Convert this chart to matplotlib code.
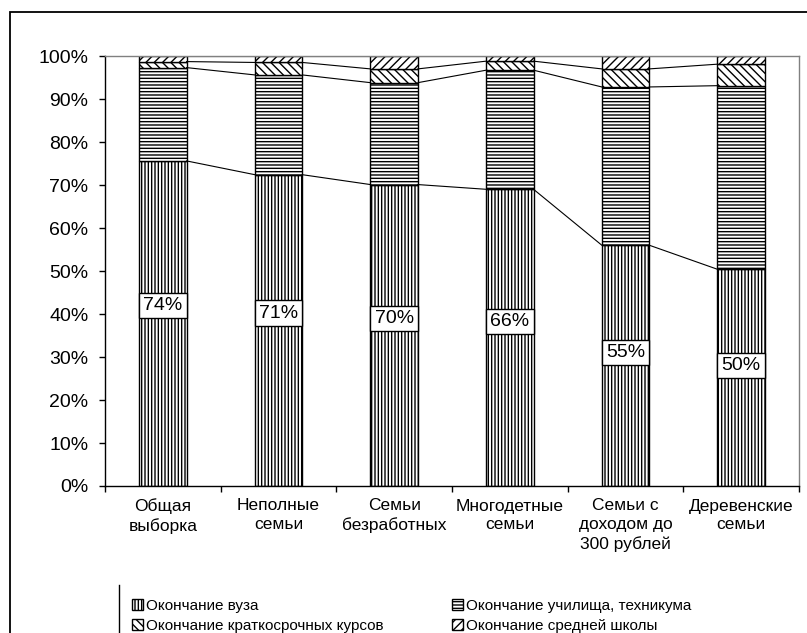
import matplotlib
matplotlib.use("Agg")
import matplotlib.pyplot as plt
from matplotlib.lines import Line2D
from matplotlib.patches import Rectangle
import numpy as np

plt.rcParams['font.family'] = ['Liberation Sans', 'DejaVu Sans']
plt.rcParams['hatch.linewidth'] = 1.0

categories = ["Общая\nвыборка", "Неполные\nсемьи", "Семьи\nбезработных",
              "Многодетные\nсемьи", "Семьи с\nдоходом до\n300 рублей", "Деревенские\nсемьи"]
series_names = ["Окончание вуза", "Окончание училища, техникума",
                "Окончание краткосрочных курсов", "Окончание средней школы"]
vuz = [75.6, 72.4, 70.1, 69.0, 56.0, 50.4]
tech = [21.7, 23.2, 23.7, 27.7, 36.8, 42.7]
courses = [1.4, 2.9, 3.2, 2.1, 4.2, 5.0]
school = [1.3, 1.5, 3.0, 1.2, 3.0, 1.9]
vuz_labels = ["74%", "71%", "70%", "66%", "55%", "50%"]
yticks = [0, 10, 20, 30, 40, 50, 60, 70, 80, 90, 100]

series = [vuz, tech, courses, school]
hatches = ['|||||', '-----', '\\\\\\\\', '////']

fig = plt.figure(figsize=(8.07, 6.33), dpi=100)
ax = fig.add_axes([105/807, 1-486/633, (799-105)/807, (486-56)/633])

x = np.arange(len(categories))
width = 0.41
bottom = np.zeros(len(categories))
handles = []
tops = []
for vals, h, name in zip(series, hatches, series_names):
    b = ax.bar(x, vals, width, bottom=bottom, color='white', edgecolor='black',
               hatch=h, linewidth=1.0, label=name)
    handles.append(b)
    bottom = bottom + np.array(vals)
    tops.append(bottom.copy())

# series lines
for top in tops:
    for i in range(len(categories) - 1):
        ax.plot([x[i] + width/2, x[i+1] - width/2], [top[i], top[i+1]],
                color='black', lw=0.8, zorder=1)

# data labels
for xi, v, lab in zip(x, vuz, vuz_labels):
    ax.text(xi, v * 0.555, lab, ha='center', va='center', fontsize=14,
            bbox=dict(boxstyle='square,pad=0.22', fc='white', ec='black', lw=1.0),
            zorder=5)

ax.set_xlim(-0.5, len(categories) - 0.5)
ax.set_ylim(0, 100)
ax.set_yticks(yticks)
ax.set_yticklabels([f"{t}%" for t in yticks], fontsize=14)
ax.set_xticks(x)
ax.set_xticklabels(categories, fontsize=12.5, linespacing=1.3)
ax.set_xticks(np.arange(-0.5, len(categories)), minor=True)
ax.tick_params(axis='x', which='major', length=0, pad=9)
ax.tick_params(axis='x', which='minor', length=4, width=1, direction='out')
ax.tick_params(axis='y', length=4, width=1, direction='out', pad=8)

for s in ['left', 'bottom']:
    ax.spines[s].set_color('black')
    ax.spines[s].set_linewidth(1.0)
for s in ['top', 'right']:
    ax.spines[s].set_color('#808080')
    ax.spines[s].set_linewidth(1.0)

leg_kw = dict(loc='upper left', frameon=False, fontsize=11, handlelength=0.7,
              handleheight=0.7, handletextpad=0.2, labelspacing=0.4,
              borderpad=0, borderaxespad=0)
fig.legend([handles[0], handles[2]], [series_names[0], series_names[2]],
           bbox_to_anchor=(132/807, 1-599/633), **leg_kw)
fig.legend([handles[1], handles[3]], [series_names[1], series_names[3]],
           bbox_to_anchor=(452/807, 1-599/633), **leg_kw)

# outer chart frame and legend frame edge
fig.add_artist(Rectangle((10/807, -0.1), 1.2, 1-12/633 + 0.1, transform=fig.transFigure,
                         fill=False, ec='black', lw=1.3))
fig.add_artist(Line2D([119/807, 119/807], [0, 1-585/633], transform=fig.transFigure,
                      color='black', lw=1.0))

fig.savefig("out.png", dpi=100, facecolor='white')
